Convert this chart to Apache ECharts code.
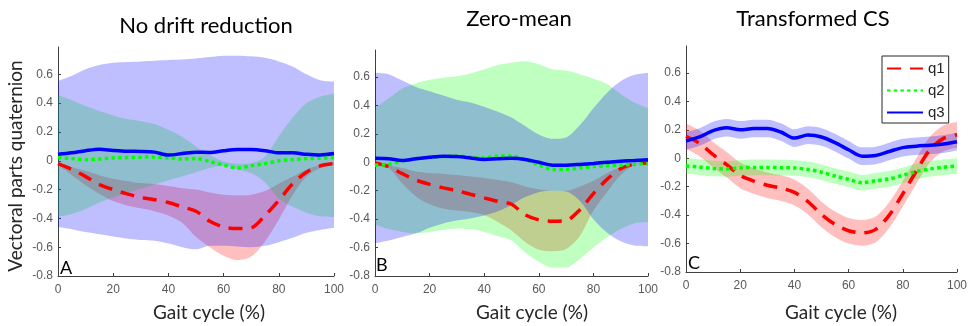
<!DOCTYPE html>
<html><head><meta charset="utf-8">
<script src="https://cdn.jsdelivr.net/npm/echarts@6/dist/echarts.min.js"></script>
<style>html,body{margin:0;padding:0;background:#fff}#c{width:973px;height:326px}</style>
</head><body><div id="c"></div>
<script>
// ---------- data ----------
const gait = [0,5,10,15,20,25,30,35,40,45,50,55,60,65,70,75,80,85,90,95,100];
const xTicks = [0,20,40,60,80,100];
const yTicks = [-0.8,-0.6,-0.4,-0.2,0,0.2,0.4,0.6];
const titles = ['No drift reduction','Zero-mean','Transformed CS'];
const letters = ['A','B','C'];
const seriesNames = ['q1','q2','q3'];

// Panel A: No drift reduction
const A_q1    = [-0.02,-0.06,-0.11,-0.165,-0.2,-0.23,-0.255,-0.27,-0.29,-0.32,-0.35,-0.42,-0.46,-0.47,-0.465,-0.38,-0.275,-0.16,-0.08,-0.035,-0.02];
const A_q1_hi = [-0.02,-0.045,-0.07,-0.1,-0.125,-0.14,-0.155,-0.163,-0.175,-0.19,-0.2,-0.22,-0.235,-0.24,-0.235,-0.21,-0.16,-0.11,-0.06,-0.03,-0.01];
const A_q1_lo = [-0.03,-0.1,-0.17,-0.23,-0.28,-0.31,-0.33,-0.35,-0.38,-0.43,-0.53,-0.6,-0.66,-0.69,-0.665,-0.56,-0.41,-0.24,-0.11,-0.05,-0.025];
const A_q2    = [0.022,0.015,0.008,0.012,0.02,0.022,0.025,0.026,0.02,0.012,0.015,-0.005,-0.03,-0.05,-0.035,-0.02,0.0,0.008,0.015,0.018,0.022];
const A_q2_hi = [0.456,0.42,0.38,0.345,0.315,0.29,0.275,0.255,0.215,0.166,0.1,0.04,-0.005,-0.02,-0.015,0.03,0.17,0.3,0.4,0.445,0.465];
const A_q2_lo = [-0.39,-0.37,-0.335,-0.29,-0.255,-0.225,-0.195,-0.165,-0.135,-0.11,-0.08,-0.05,-0.035,-0.06,-0.085,-0.15,-0.26,-0.32,-0.36,-0.385,-0.39];
const A_q3    = [0.045,0.055,0.07,0.08,0.072,0.066,0.065,0.06,0.04,0.05,0.06,0.058,0.07,0.078,0.078,0.07,0.055,0.055,0.045,0.04,0.05];
const A_q3_hi = [0.553,0.59,0.635,0.665,0.68,0.685,0.69,0.695,0.7,0.703,0.71,0.72,0.73,0.73,0.725,0.715,0.69,0.655,0.6,0.56,0.55];
const A_q3_lo = [-0.46,-0.475,-0.495,-0.51,-0.525,-0.54,-0.55,-0.555,-0.575,-0.6,-0.615,-0.59,-0.59,-0.595,-0.6,-0.59,-0.565,-0.535,-0.5,-0.48,-0.465];

// Panel B: Zero-mean
const B_q1    = [-0.005,-0.03,-0.08,-0.125,-0.155,-0.18,-0.2,-0.225,-0.25,-0.275,-0.295,-0.37,-0.405,-0.415,-0.41,-0.335,-0.22,-0.12,-0.045,-0.012,-0.005];
const B_q1_hi = [0.0,-0.02,-0.04,-0.065,-0.075,-0.08,-0.09,-0.1,-0.11,-0.125,-0.14,-0.17,-0.19,-0.2,-0.2,-0.17,-0.13,-0.075,-0.035,-0.012,-0.005];
const B_q1_lo = [-0.01,-0.04,-0.15,-0.24,-0.295,-0.325,-0.34,-0.35,-0.37,-0.42,-0.48,-0.56,-0.615,-0.625,-0.61,-0.52,-0.34,-0.21,-0.09,-0.02,-0.005];
const B_q2    = [-0.02,-0.015,0.01,0.025,0.035,0.04,0.045,0.035,0.03,0.045,0.045,0.02,-0.02,-0.05,-0.05,-0.04,-0.03,-0.025,-0.02,-0.015,-0.01];
const B_q2_hi = [0.38,0.45,0.52,0.555,0.58,0.595,0.605,0.625,0.655,0.685,0.7,0.71,0.69,0.655,0.645,0.62,0.59,0.55,0.48,0.42,0.38];
const B_q2_lo = [-0.44,-0.47,-0.49,-0.5,-0.49,-0.475,-0.465,-0.47,-0.49,-0.52,-0.55,-0.635,-0.7,-0.74,-0.74,-0.68,-0.6,-0.53,-0.47,-0.43,-0.42];
const B_q3    = [0.028,0.025,0.012,0.025,0.035,0.042,0.04,0.03,0.02,0.025,0.028,0.02,0.0,-0.02,-0.02,-0.015,-0.008,0.0,0.008,0.012,0.018];
const B_q3_hi = [0.628,0.62,0.575,0.53,0.5,0.47,0.44,0.42,0.39,0.355,0.315,0.255,0.195,0.165,0.175,0.26,0.38,0.49,0.57,0.615,0.628];
const B_q3_lo = [-0.57,-0.55,-0.525,-0.5,-0.46,-0.43,-0.41,-0.395,-0.375,-0.345,-0.3,-0.245,-0.21,-0.2,-0.205,-0.27,-0.4,-0.495,-0.555,-0.585,-0.59];

// Panel C: Transformed CS
const C_q1    = [0.155,0.105,0.025,-0.045,-0.12,-0.16,-0.19,-0.21,-0.24,-0.305,-0.395,-0.465,-0.51,-0.525,-0.5,-0.4,-0.25,-0.09,0.06,0.14,0.165];
const C_q1_hi = [0.245,0.195,0.115,0.045,-0.03,-0.07,-0.1,-0.12,-0.15,-0.215,-0.305,-0.375,-0.42,-0.435,-0.41,-0.31,-0.16,0.0,0.15,0.23,0.255];
const C_q1_lo = [0.065,0.015,-0.065,-0.135,-0.21,-0.25,-0.28,-0.3,-0.33,-0.395,-0.485,-0.555,-0.6,-0.615,-0.59,-0.49,-0.34,-0.18,-0.03,0.05,0.075];
const C_q2    = [-0.054,-0.062,-0.072,-0.075,-0.068,-0.064,-0.064,-0.066,-0.068,-0.078,-0.098,-0.125,-0.148,-0.172,-0.158,-0.145,-0.12,-0.093,-0.075,-0.063,-0.054];
const C_q2_hi = [0.001,-0.007,-0.017,-0.02,-0.013,-0.009,-0.009,-0.011,-0.013,-0.023,-0.043,-0.07,-0.093,-0.117,-0.103,-0.09,-0.065,-0.038,-0.02,-0.008,0.001];
const C_q2_lo = [-0.109,-0.117,-0.127,-0.13,-0.123,-0.119,-0.119,-0.121,-0.123,-0.133,-0.153,-0.18,-0.203,-0.227,-0.213,-0.2,-0.175,-0.148,-0.13,-0.118,-0.109];
const C_q3    = [0.122,0.15,0.195,0.215,0.2,0.21,0.21,0.185,0.142,0.163,0.15,0.11,0.06,0.015,0.02,0.048,0.075,0.085,0.092,0.1,0.117];
const C_q3_hi = [0.184,0.212,0.257,0.277,0.262,0.272,0.272,0.247,0.204,0.225,0.212,0.172,0.122,0.077,0.082,0.11,0.137,0.147,0.154,0.162,0.179];
const C_q3_lo = [0.06,0.088,0.133,0.153,0.138,0.148,0.148,0.123,0.08,0.101,0.088,0.048,-0.002,-0.047,-0.042,-0.014,0.013,0.023,0.03,0.038,0.055];

// ---------- styling ----------
const panels = [
  {q:[A_q1,A_q2,A_q3], hi:[A_q1_hi,A_q2_hi,A_q3_hi], lo:[A_q1_lo,A_q2_lo,A_q3_lo]},
  {q:[B_q1,B_q2,B_q3], hi:[B_q1_hi,B_q2_hi,B_q3_hi], lo:[B_q1_lo,B_q2_lo,B_q3_lo]},
  {q:[C_q1,C_q2,C_q3], hi:[C_q1_hi,C_q2_hi,C_q3_hi], lo:[C_q1_lo,C_q2_lo,C_q3_lo]}
];
const grids = [
  {left:58, top:47, width:276, height:229},
  {left:375, top:50, width:273, height:226},
  {left:686, top:46, width:271, height:226}
];
const lineColors = ['#ff0000','#00ff00','#0000ff'];
const bandColors = ['rgba(255,0,0,0.25)','rgba(0,255,0,0.25)','rgba(0,0,255,0.25)'];
const lineTypes = [[14,9],[3.5,3.2],'solid'];
const SM = 0.3;
const axisCol = '#404040', labCol = '#595959';
const tickEvery = Math.round((xTicks[1]-xTicks[0])/(gait[1]-gait[0])) - 1;

const series = [];
panels.forEach((p, pi) => {
  for (let k = 0; k < 3; k++) {
    const st = 'band' + pi + '_' + k;
    series.push({type:'line', name: st+'_lo', xAxisIndex:pi, yAxisIndex:pi, stack:st, stackStrategy:'all',
      data: p.lo[k].slice(), symbol:'none', smooth:SM, silent:true, lineStyle:{opacity:0, width:0}, z:1});
    series.push({type:'line', name: st+'_w', xAxisIndex:pi, yAxisIndex:pi, stack:st, stackStrategy:'all',
      data: p.hi[k].map((h,i)=>h - p.lo[k][i]), symbol:'none', smooth:SM, silent:true,
      lineStyle:{opacity:0, width:0}, areaStyle:{color:bandColors[k], opacity:1}, z:1});
  }
  for (let k = 0; k < 3; k++) {
    series.push({type:'line', name: seriesNames[k], xAxisIndex:pi, yAxisIndex:pi, data: p.q[k].slice(),
      symbol:'none', smooth:SM, silent:true,
      lineStyle:{color:lineColors[k], width:3.5, type:lineTypes[k], cap:'butt'}, itemStyle:{color:lineColors[k]}, z:3});
  }
});

const xAxes = grids.map((g,i)=>({gridIndex:i, type:'category', data: gait.map(String), boundaryGap:false,
  axisLine:{show:true, onZero:false, lineStyle:{color:axisCol, width:1}},
  axisTick:{show:true, inside:true, length:3, interval:tickEvery, lineStyle:{color:axisCol}},
  axisLabel:{color:labCol, fontFamily:'Liberation Sans', fontSize:12, margin:8, interval:tickEvery},
  splitLine:{show:false}}));
const yAxes = grids.map((g,i)=>({gridIndex:i, type:'value', min:yTicks[0], max:0.79, interval:0.2,
  axisLine:{show:true, lineStyle:{color:axisCol, width:1}},
  axisTick:{show:true, inside:true, length:3, lineStyle:{color:axisCol}, customValues: yTicks},
  axisLabel:{color:labCol, fontFamily:'Liberation Sans', fontSize:12, margin:5, customValues: yTicks},
  splitLine:{show:false}}));

const titlePos = [[206,26],[519,18.5],[813,18.5]];
const gaitPos = [[209,313],[532,313],[841,313]];
const letterPos = [[60,268],[376,265.5],[688,263]];
const graphic = [];
titles.forEach((t,i)=>graphic.push({type:'text', x:titlePos[i][0], y:titlePos[i][1], z:10,
  style:{text:t, fontFamily:'Lato', fontSize:22, fill:'#000', textAlign:'center', textVerticalAlign:'middle'}}));
gaitPos.forEach((p,i)=>graphic.push({type:'text', x:p[0], y:p[1], z:10,
  style:{text:'Gait cycle (%)', fontFamily:'Lato', fontSize:19, fill:'#262626', textAlign:'center', textVerticalAlign:'middle'}}));
letterPos.forEach((p,i)=>graphic.push({type:'text', x:p[0], y:p[1], z:10,
  style:{text:letters[i], fontFamily:'Lato', fontSize:18, fill:'#000', textAlign:'left', textVerticalAlign:'middle'}}));
graphic.push({type:'text', x:15.5, y:166, rotation:Math.PI/2, z:10,
  style:{text:'Vectoral parts quaternion', fontFamily:'Lato', fontSize:19, fill:'#262626', textAlign:'center', textVerticalAlign:'middle'}});

const chart = echarts.init(document.getElementById('c'), null, {renderer:'canvas'});
chart.setOption({
  animation:false,
  backgroundColor:'#fff',
  grid: grids,
  xAxis: xAxes,
  yAxis: yAxes,
  legend: {data: seriesNames, orient:'vertical', left:882, top:56, itemWidth:36, itemHeight:14, itemGap:7,
    padding:[5,4,3,4], borderColor:'#262626', borderWidth:1, borderRadius:0, backgroundColor:'#fff', selectedMode:false,
    itemStyle:{opacity:0},
    textStyle:{fontFamily:'Liberation Sans', fontSize:15, color:'#262626', lineHeight:14}},
  graphic: graphic,
  series: series
});
</script></body></html>
